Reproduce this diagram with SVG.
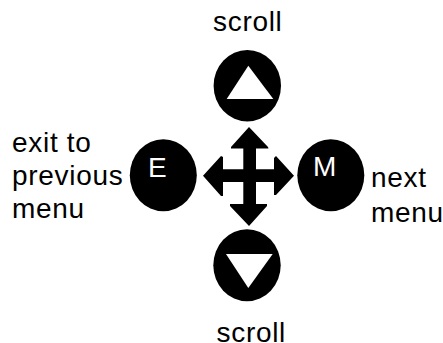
<svg xmlns="http://www.w3.org/2000/svg" width="443" height="343" viewBox="0 0 443 343">
<style>
.b{fill:#000}
.w{fill:#fff}
text{font-family:"Liberation Sans",Arial,sans-serif;font-size:28px;fill:#000;letter-spacing:.7px}
text.k{fill:#fff;font-size:28px;letter-spacing:0}
</style>
<rect width="443" height="343" fill="#fff"/>
<g id="scroll-up">
<ellipse class="b" cx="247.3" cy="85.8" rx="33.7" ry="35.8"/>
<polygon class="w" points="248.3,65.7 273.3,99 226.7,99"/>
<text x="213" y="31">scroll</text>
</g>
<g id="exit">
<ellipse class="b" cx="163.3" cy="175.3" rx="33.5" ry="36"/>
<text class="k" x="148" y="177">E</text>
<text x="12" y="152">exit to</text>
<text x="12" y="184.5">previous</text>
<text x="12" y="218">menu</text>
</g>
<g id="next">
<ellipse class="b" cx="330.8" cy="175.3" rx="33.5" ry="36"/>
<text class="k" x="313" y="176">M</text>
<text x="371" y="187">next</text>
<text x="371" y="221.5">menu</text>
</g>
<g id="scroll-down">
<ellipse class="b" cx="247" cy="265.2" rx="33.7" ry="36"/>
<polygon class="w" points="226,254 272.7,254 248.3,288"/>
<text x="216.5" y="341.5">scroll</text>
</g>
<g id="connectors">
<polygon class="b" points="249,127 268,147 268.5,148.5 256,148.5 256,169.3 274,169.3 274,158 276,156 294,175.7 276,195 274,195 274,182 256,182 256,204 267,204 267,206 249,226 230,206 230,204 243.3,204 243.3,182 223,182 223,196 221,196 203,175.7 221,156 223,157 223,169.3 243.3,169.3 243.3,148.5 231,148.5 231,147"/>
</g>
</svg>
